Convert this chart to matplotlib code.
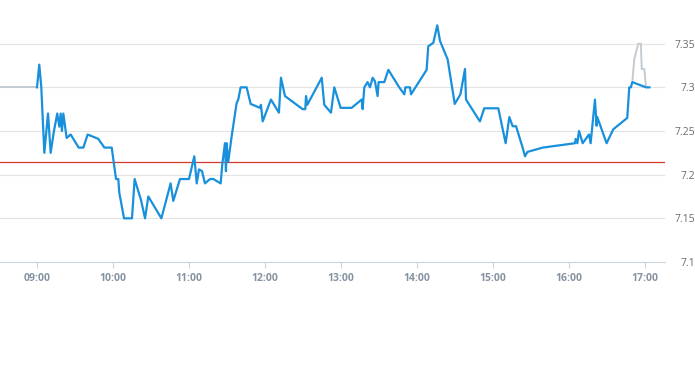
import matplotlib
matplotlib.use("Agg")
import matplotlib.pyplot as plt

# minutes after 09:00 and price
minutes = [0, 1.8, 3.4, 5.8, 8.7, 10.8, 13.4, 16, 17.6, 18.7, 19.7, 20.8, 23.4, 26.6,
           32.9, 36.6, 40, 48.4, 53.2, 59, 62.4, 64.2, 65, 66.5, 68.7, 75, 77.1, 82.1,
           85.3, 87.9, 98.2, 105.5, 107.6, 112.9, 120, 124.2, 126.1, 127.9, 130.3,
           132.6, 136.6, 139.2, 145, 146.3, 148.4, 149.2, 149.7, 151, 153.7, 157.6,
           158.9, 160.8, 165.5, 168.7, 176, 176.8, 178.2, 184.7, 191, 192.6, 195.8,
           209.7, 211.8, 212.4, 213.4, 224.8, 226.8, 232.1, 234.7, 239.7, 248.4, 256.3,
           257.1, 258.4, 261, 262.9, 265, 266.8, 268.9, 269.7, 274.2, 277.4, 286, 290,
           290.8, 294.5, 295.3, 307.6, 308.9, 312.9, 316, 318.2, 324.2, 329.8, 334.3,
           337.9, 338.7, 349.7, 353.1, 364.2, 370, 372.9, 375.5, 378.2, 383.4, 385.3,
           387.1, 399.2, 424.7, 425.3, 426.6, 427.9, 430.8, 435.8, 437.1, 440.5, 441.8,
           442.3, 449.7, 455, 466, 467.6, 468.9, 470, 480.8, 483.5]
prices = [7.30, 7.326, 7.30, 7.225, 7.27, 7.225, 7.25, 7.27, 7.255, 7.27, 7.25, 7.27,
          7.242, 7.246, 7.231, 7.231, 7.246, 7.241, 7.231, 7.231, 7.195, 7.195, 7.179,
          7.1675, 7.15, 7.15, 7.195, 7.171, 7.15, 7.175, 7.15, 7.19, 7.17, 7.195, 7.195,
          7.221, 7.19, 7.206, 7.204, 7.19, 7.195, 7.195, 7.19, 7.212, 7.236, 7.204,
          7.236, 7.215, 7.244, 7.282, 7.286, 7.30, 7.30, 7.281, 7.2765, 7.28, 7.261,
          7.286, 7.271, 7.311, 7.29, 7.275, 7.275, 7.29, 7.28, 7.311, 7.28, 7.271, 7.30,
          7.2765, 7.2765, 7.286, 7.275, 7.30, 7.306, 7.30, 7.311, 7.307, 7.29, 7.306,
          7.306, 7.32, 7.30, 7.292, 7.30, 7.30, 7.292, 7.32, 7.347, 7.351, 7.371, 7.353,
          7.332, 7.281, 7.292, 7.321, 7.286, 7.261, 7.276, 7.276, 7.236, 7.266, 7.2555,
          7.2555, 7.231, 7.221, 7.226, 7.231, 7.236, 7.241, 7.236, 7.25, 7.236, 7.246,
          7.236, 7.286, 7.256, 7.266, 7.236, 7.252, 7.265, 7.30, 7.30, 7.306, 7.30, 7.30]

# pre-open and after-hours traces (gray)
pre_minutes = [-30, 0]
pre_prices = [7.30, 7.30]
post_minutes = [470, 471.5, 474.7, 476.8, 477.4, 479.5, 480.8]
post_prices = [7.306, 7.332, 7.35, 7.35, 7.321, 7.321, 7.30]

prev_close = 7.215

xtick_pos = [0, 60, 120, 180, 240, 300, 360, 420, 480]
xtick_labels = ["09:00", "10:00", "11:00", "12:00", "13:00", "14:00", "15:00", "16:00", "17:00"]
ytick_pos = [7.1, 7.15, 7.2, 7.25, 7.3, 7.35]
ytick_labels = ["7.1", "7.15", "7.2", "7.25", "7.3", "7.35"]

plt.rcParams['font.family'] = ['Open Sans', 'DejaVu Sans']

fig = plt.figure(figsize=(6.95, 3.70), dpi=100)
ax = fig.add_axes([0, 108 / 370, 665 / 695, 262 / 370])

ax.plot(pre_minutes, pre_prices, color='#c0c8d0', lw=1.3, zorder=2)
ax.plot(post_minutes, post_prices, color='#c0c8d0', lw=1.3, zorder=2)
ax.plot(minutes, prices, color='#1890dc', lw=1.6, zorder=3, solid_joinstyle='round')
ax.axhline(prev_close, color='#d33a2c', lw=0.9, zorder=2)

ax.set_xlim(-29.2, 495.8)
ax.set_ylim(7.1, 7.4)

ax.set_xticks(xtick_pos)
ax.set_xticklabels(xtick_labels, color='#8593a1', fontsize=7.5, fontweight='bold')
ax.set_yticks(ytick_pos)
ax.set_yticklabels(ytick_labels, color='#6a6a6a', fontsize=7.5, ha='right')
ax.yaxis.tick_right()
ax.tick_params(axis='y', length=0, pad=21.5)
ax.tick_params(axis='x', length=4, color='#ccd6e0', width=0.8, pad=4)

ax.grid(axis='y', color='#e3e3e3', lw=0.8, zorder=1)
for side in ['top', 'right', 'left']:
    ax.spines[side].set_visible(False)
ax.spines['bottom'].set_color('#ccd6e0')
ax.spines['bottom'].set_linewidth(0.8)

fig.savefig('out.png', dpi=100)
